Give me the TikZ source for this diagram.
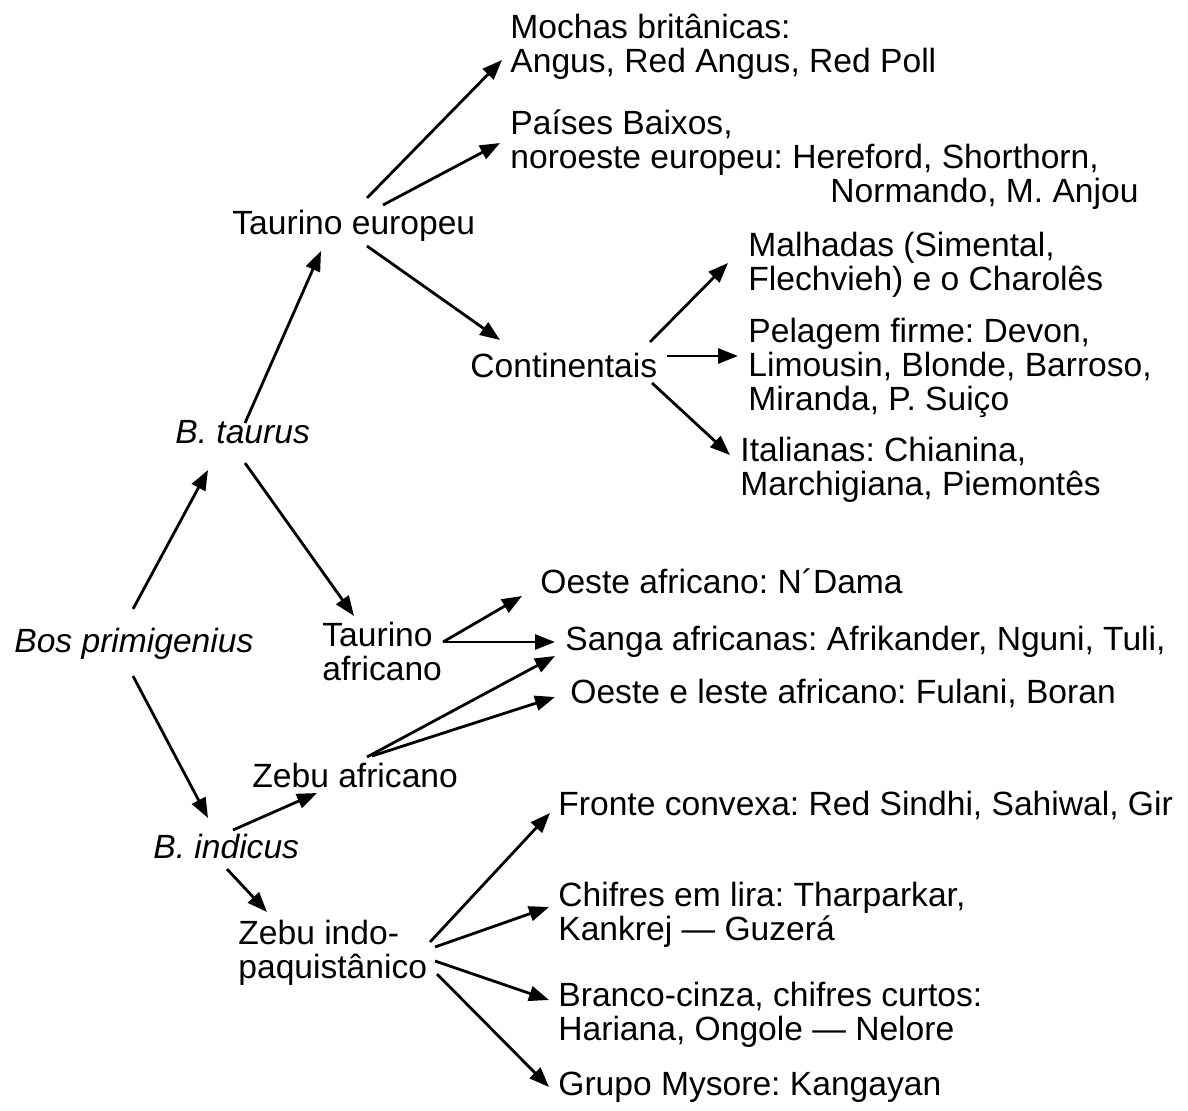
\documentclass[tikz,border=0pt]{standalone}
\usepackage{fontspec}
\setmainfont{Liberation Sans}
\usetikzlibrary{arrows.meta}
\frenchspacing

\begin{document}
\begin{tikzpicture}[
    x=0.5pt, y=-0.5pt,
    txt/.style={inner sep=0pt, anchor=base west, align=left, font=\fontsize{16.8pt}{17pt}\selectfont},
    sp/.style={txt, font=\fontsize{16.8pt}{17pt}\selectfont\itshape},
    arr/.style={-{Triangle[length=10pt,width=7.5pt]}, line width=1.4pt}
]
    \useasboundingbox (0,0) rectangle (1188,1110);

    % species and groups (base = last line)
    \node[sp]  (bos)  at (14,652)  {Bos primigenius};
    \node[sp]  (btau) at (175,443) {B. taurus};
    \node[sp]  (bind) at (153,858) {B. indicus};
    \node[txt] (teu)  at (232,234) {Taurino europeu};
    \node[txt] (cont) at (470,377) {Continentais};
    \node[txt] (taf)  at (322,680) {Taurino\\africano};
    \node[txt] (zaf)  at (252,787) {Zebu africano};
    \node[txt] (zind) at (238,978) {Zebu indo-\\paquistânico};

    % breeds
    \node[txt] (moch)  at (510,72)   {Mochas britânicas:\\Angus, Red Angus, Red Poll};
    \node[txt] (pais)  at (510,202)  {Países Baixos,\\noroeste europeu: Hereford, Shorthorn,\\\hspace*{160pt}Normando, M. Anjou};
    \node[txt] (malh)  at (748,290)  {Malhadas (Simental,\\Flechvieh) e o Charolês};
    \node[txt] (pela)  at (748,410)  {Pelagem firme: Devon,\\Limousin, Blonde, Barroso,\\Miranda, P. Suiço};
    \node[txt] (ital)  at (740,495)  {Italianas: Chianina,\\Marchigiana, Piemontês};
    \node[txt] (oaf)   at (540,593)  {Oeste africano: N´Dama};
    \node[txt] (sanga) at (565,650)  {Sanga africanas: Afrikander, Nguni, Tuli,};
    \node[txt] (olaf)  at (570,703)  {Oeste e leste africano: Fulani, Boran};
    \node[txt] (fron)  at (558,815)  {Fronte convexa: Red Sindhi, Sahiwal, Gir};
    \node[txt] (chif)  at (558,940)  {Chifres em lira: Tharparkar,\\Kankrej — Guzerá};
    \node[txt] (bran)  at (558,1040) {Branco-cinza, chifres curtos:\\Hariana, Ongole — Nelore};
    \node[txt] (grup)  at (558,1095) {Grupo Mysore: Kangayan};

    % arrows
    \draw[arr] ([shift={(119,-43)}]bos.base west) -- ([shift={(33,27)}]btau.base west);
    \draw[arr] ([shift={(119,24)}]bos.base west) -- ([shift={(55,-40)}]bind.base west);
    \draw[arr] ([shift={(70,-20)}]btau.base west) -- ([shift={(89,17)}]teu.base west);
    \draw[arr] ([shift={(70,20)}]btau.base west) -- ([shift={(32,-64)}]taf.base west);
    \draw[arr] ([shift={(135,-36)}]teu.base west) -- ([shift={(-8,-12)}]moch.base west);
    \draw[arr] ([shift={(151,-29)}]teu.base west) -- ([shift={(-10,-59)}]pais.base west);
    \draw[arr] ([shift={(135,12)}]teu.base west) -- ([shift={(30,-37)}]cont.base west);
    \draw[arr] ([shift={(180,-35)}]cont.base west) -- ([shift={(-20,-27)}]malh.base west);
    \draw[arr] ([shift={(197,-21)}]cont.base west) -- ([shift={(-10,-54)}]pela.base west);
    \draw[arr] ([shift={(182,6)}]cont.base west) -- ([shift={(-10,-40)}]ital.base west);
    \draw[arr] ([shift={(121,-38)}]taf.base west) -- ([shift={(-18,3)}]oaf.base west);
    \draw[arr] ([shift={(121,-38)}]taf.base west) -- ([shift={(-10,-8)}]sanga.base west);
    \draw[arr] ([shift={(115,-30)}]zaf.base west) -- ([shift={(-10,6)}]sanga.base west);
    \draw[arr] ([shift={(120,-31)}]zaf.base west) -- ([shift={(-15,-6)}]olaf.base west);
    \draw[arr] ([shift={(80,-28)}]bind.base west) -- ([shift={(65,6)}]zaf.base west);
    \draw[arr] ([shift={(74,11)}]bind.base west) -- ([shift={(29,-66)}]zind.base west);
    \draw[arr] ([shift={(192,-36)}]zind.base west) -- ([shift={(-8,-2)}]fron.base west);
    \draw[arr] ([shift={(197,-31)}]zind.base west) -- ([shift={(-9,-33)}]chif.base west);
    \draw[arr] ([shift={(197,-17)}]zind.base west) -- ([shift={(-9,-40)}]bran.base west);
    \draw[arr] ([shift={(199,-4)}]zind.base west) -- ([shift={(-9,-8)}]grup.base west);
\end{tikzpicture}
\end{document}
